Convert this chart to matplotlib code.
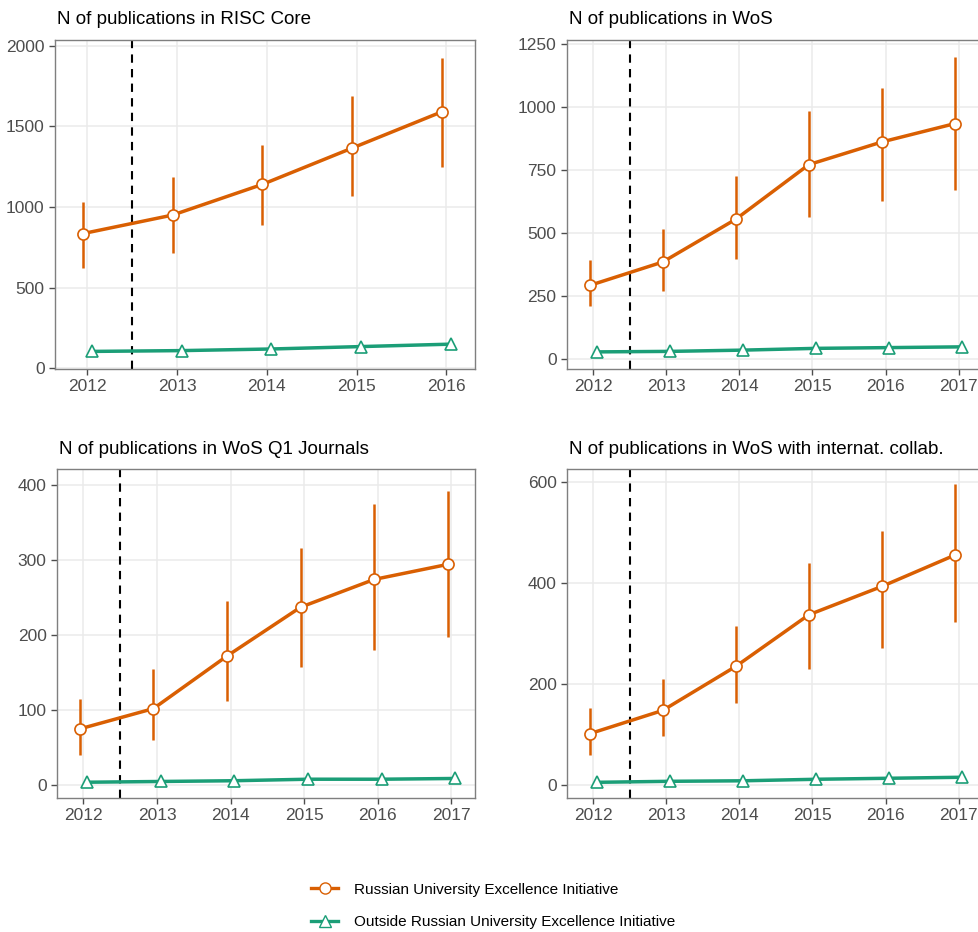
import matplotlib.pyplot as plt
from matplotlib.lines import Line2D

plt.rcParams['font.family'] = ['Liberation Sans', 'DejaVu Sans']

W, H = 979, 932
orange = '#D95F02'
green = '#1B9E77'

years5 = [2012, 2013, 2014, 2015, 2016]
years6 = [2012, 2013, 2014, 2015, 2016, 2017]

# RISC Core
risc_rue = [835, 950, 1140, 1365, 1590]
risc_lo = [625, 715, 890, 1070, 1250]
risc_hi = [1030, 1185, 1385, 1690, 1925]
risc_out = [105, 110, 120, 135, 150]

# WoS
wos_rue = [292, 385, 555, 772, 862, 935]
wos_lo = [210, 268, 398, 565, 627, 672]
wos_hi = [393, 515, 728, 985, 1075, 1200]
wos_out = [28, 30, 35, 42, 45, 48]

# WoS Q1
q1_rue = [75, 102, 172, 237, 274, 294]
q1_lo = [40, 60, 112, 158, 180, 198]
q1_hi = [115, 155, 245, 316, 374, 392]
q1_out = [4, 5, 6, 8, 8, 9]

# WoS internat. collab.
ic_rue = [102, 148, 235, 337, 393, 455]
ic_lo = [60, 97, 162, 230, 272, 323]
ic_hi = [152, 210, 315, 440, 503, 595]
ic_out = [6, 8, 9, 12, 14, 16]

panels = [
    ("N of publications in RISC Core", years5, risc_rue, risc_lo, risc_hi, risc_out,
     [0, 500, 1000, 1500, 2000], (-4, 2035), (55, 40, 475, 369)),
    ("N of publications in WoS", years6, wos_rue, wos_lo, wos_hi, wos_out,
     [0, 250, 500, 750, 1000, 1250], (-40, 1267), (567, 40, 982, 369)),
    ("N of publications in WoS Q1 Journals", years6, q1_rue, q1_lo, q1_hi, q1_out,
     [0, 100, 200, 300, 400], (-17, 421), (57, 469, 475, 798)),
    ("N of publications in WoS with internat. collab.", years6, ic_rue, ic_lo, ic_hi, ic_out,
     [0, 200, 400, 600], (-25, 625), (567, 469, 982, 798)),
]

fig = plt.figure(figsize=(W / 100, H / 100), dpi=100)
dodge = 0.05

for title, yrs, rue, lo, hi, out, yt, ylim, box in panels:
    x0, y0, x1, y1 = box
    ax = fig.add_axes([x0 / W, 1 - y1 / H, (x1 - x0) / W, (y1 - y0) / H])
    xr = [y - dodge for y in yrs]
    xo = [y + dodge for y in yrs]
    err = [[v - l for v, l in zip(rue, lo)], [h - v for v, h in zip(rue, hi)]]
    ax.errorbar(xr, rue, yerr=err, fmt='none', ecolor=orange, elinewidth=1.8, capsize=0, zorder=3)
    ax.plot(xr, rue, color=orange, lw=2.5, zorder=3)
    ax.plot(xr, rue, 'o', ms=8, mfc='white', mec=orange, mew=1.2, zorder=4)
    ax.plot(xo, out, color=green, lw=2.5, zorder=3)
    ax.plot(xo, out, '^', ms=9, mfc='white', mec=green, mew=1.2, zorder=4)
    ax.axvline(2012.5, color='black', ls=(0, (4, 3)), lw=1.5, zorder=2)
    ax.set_xticks(yrs)
    ax.set_yticks(yt)
    ax.set_xlim(yrs[0] - 0.36, yrs[-1] + 0.32)
    ax.set_ylim(*ylim)
    ax.grid(True, color='#EBEBEB', lw=1.1, zorder=0)
    ax.set_axisbelow(True)
    for s in ax.spines.values():
        s.set_color('#7F7F7F')
        s.set_linewidth(1.0)
    ax.tick_params(colors='#4D4D4D', labelsize=12.5, length=4, width=1, labelcolor='#4D4D4D')
    ax.tick_params(axis='x', pad=3)
    fig.text(x0 / W + 0.002, 1 - (y0 - 20) / H, title, fontsize=13.5, color='black',
             ha='left', va='center')

handles = [
    Line2D([], [], color=orange, lw=2.4, marker='o', ms=8, mfc='white', mec=orange),
    Line2D([], [], color=green, lw=2.4, marker='^', ms=9, mfc='white', mec=green),
]
labels = ['Russian University Excellence Initiative',
          'Outside Russian University Excellence Initiative']
fig.legend(handles, labels, loc='center left', bbox_to_anchor=(297 / W, 1 - 906 / H),
           frameon=False, fontsize=11, handlelength=1.8, labelspacing=1.2,
           handletextpad=1.0)

fig.savefig('out.png', dpi=100)
